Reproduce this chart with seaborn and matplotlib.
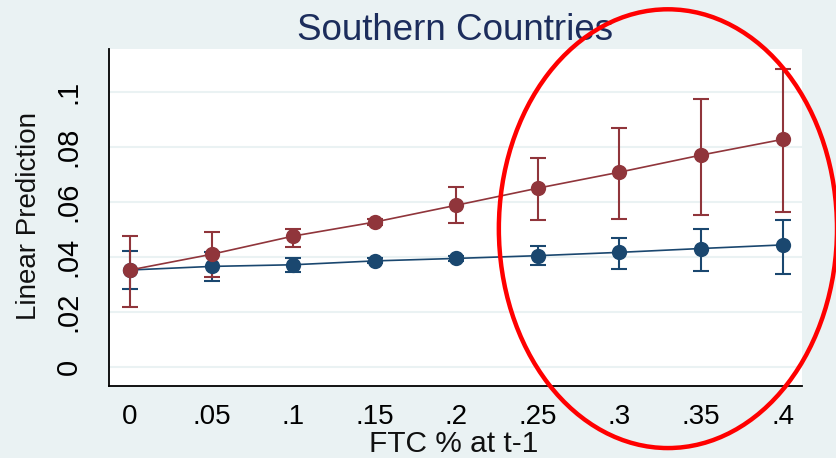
import matplotlib
matplotlib.use("Agg")  # no display in the sandbox
import matplotlib.pyplot as plt
from matplotlib.patches import Ellipse
import numpy as np
import pandas as pd
import seaborn as sns

# ── Data ─────────────────────────────────────────────────────────────────────
ftc_share = [0.0, 0.05, 0.10, 0.15, 0.20, 0.25, 0.30, 0.35, 0.40]
x_tick_labels = ["0", ".05", ".1", ".15", ".2", ".25", ".3", ".35", ".4"]
y_ticks = [0.0, 0.02, 0.04, 0.06, 0.08, 0.10]
y_tick_labels = ["0", ".02", ".04", ".06", ".08", ".1"]

# navy series (flat)
pred_navy = [0.0353, 0.0366, 0.0372, 0.0386, 0.0395, 0.0405, 0.0417, 0.0431, 0.0444]
lo_navy = [0.0283, 0.0313, 0.0347, 0.0377, 0.0386, 0.0371, 0.0357, 0.0351, 0.0340]
hi_navy = [0.0422, 0.0420, 0.0398, 0.0395, 0.0404, 0.0440, 0.0470, 0.0501, 0.0534]

# maroon series (rising)
pred_maroon = [0.0353, 0.0410, 0.0476, 0.0527, 0.0588, 0.0650, 0.0708, 0.0770, 0.0827]
lo_maroon = [0.0218, 0.0327, 0.0438, 0.0517, 0.0523, 0.0534, 0.0539, 0.0553, 0.0565]
hi_maroon = [0.0478, 0.0490, 0.0502, 0.0538, 0.0653, 0.0761, 0.0867, 0.0973, 0.1081]

series_names = ["Group 1", "Group 2"]

# ── Styling (Stata s2color look) ─────────────────────────────────────────────
sns.set_theme(style="white")
plt.rcParams["font.family"] = ["Liberation Sans", "DejaVu Sans"]

NAVY = "#1A476F"
MAROON = "#90353B"
BG = "#EAF2F3"
TITLE_COLOR = "#1C2D5C"

fig = plt.figure(figsize=(8.37, 4.58), dpi=100, facecolor=BG)
ax = fig.add_axes([0.1302, 0.1572, 0.8276, 0.7352])
ax.set_facecolor("white")

# confidence intervals first, then connected lines (like marginsplot)
for est, lo, hi, color in [
    (pred_navy, lo_navy, hi_navy, NAVY),
    (pred_maroon, lo_maroon, hi_maroon, MAROON),
]:
    est, lo, hi = np.array(est), np.array(lo), np.array(hi)
    ax.errorbar(
        ftc_share, est, yerr=[est - lo, hi - est],
        fmt="none", ecolor=color, elinewidth=1.5,
        capsize=6, capthick=1.5, zorder=2,
    )

df = pd.DataFrame({
    "ftc": ftc_share * 2,
    "pred": pred_navy + pred_maroon,
    "group": [series_names[0]] * len(ftc_share) + [series_names[1]] * len(ftc_share),
})
sns.lineplot(
    data=df, x="ftc", y="pred", hue="group",
    hue_order=series_names, palette=[NAVY, MAROON],
    marker="o", markersize=11, markeredgewidth=0,
    linewidth=1.2, errorbar=None, legend=False, ax=ax, zorder=3,
)

# axes
ax.set_xlim(-0.0129, 0.4117)
ax.set_ylim(-0.0068, 0.1154)
ax.set_xticks(ftc_share)
ax.set_xticklabels(x_tick_labels, fontsize=20, color="black")
ax.set_yticks(y_ticks)
ax.set_yticklabels(y_tick_labels, fontsize=21, color="black",
                   rotation=90, va="center")
ax.tick_params(axis="x", length=7.2, width=1.1, pad=6, color="black")
ax.tick_params(axis="y", length=11, width=1.1, pad=8, color="black")

ax.yaxis.grid(True, color=BG, linewidth=1.5)
ax.set_axisbelow(True)

for side in ["top", "right"]:
    ax.spines[side].set_visible(False)
for side in ["left", "bottom"]:
    ax.spines[side].set_color("black")
    ax.spines[side].set_linewidth(1.3)

ax.set_xlabel("FTC % at t-1", fontsize=21.5, color="#111111")
ax.set_ylabel("Linear Prediction", fontsize=20, color="#111111")
ax.xaxis.set_label_coords(0.498, -0.131)
ax.yaxis.set_label_coords(-0.097, 0.505)
ax.set_title("Southern Countries", fontsize=26.5, color=TITLE_COLOR, pad=6.7)

# red highlight ellipse drawn over the figure
fig.patches.append(Ellipse(
    (0.798, 0.5007), 0.404, 0.958, transform=fig.transFigure,
    fill=False, edgecolor="#FF0000", linewidth=3.2, zorder=10,
))

fig.savefig("out.png", dpi=100, facecolor=fig.get_facecolor())
plt.close(fig)
